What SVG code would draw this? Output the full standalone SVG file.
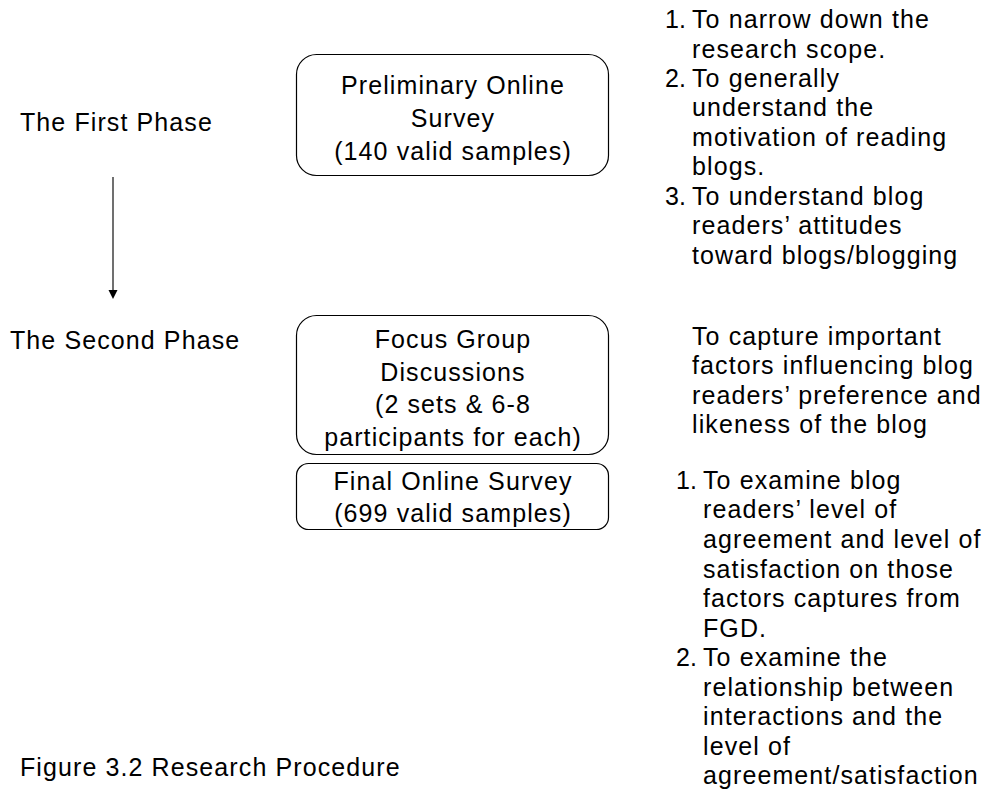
<svg xmlns="http://www.w3.org/2000/svg" width="986" height="789" viewBox="0 0 986 789">
<defs>
<style>
text{font-family:"Liberation Sans",Arial,sans-serif;font-size:25px;letter-spacing:1.1px;fill:#000}
.c{text-anchor:middle}
.n{letter-spacing:0}
.box{fill:#fff;stroke:#000;stroke-width:1.2}
.conn{stroke:#404040;stroke-width:1.5;fill:none}
</style>
</defs>
<rect width="986" height="789" fill="#fff"/>
<g id="phase1"><text x="20" y="131">The First Phase</text></g>
<g id="phase2"><text x="10" y="349">The Second Phase</text></g>
<g id="caption"><text x="20" y="776">Figure 3.2 Research Procedure</text></g>
<g id="connectors"><line class="conn" x1="113" y1="177" x2="113" y2="290"/><path d="M108.5,290 L117.5,290 L113,299 Z" fill="#000"/></g>
<g id="prelim">
<rect class="box" x="296.5" y="54.5" width="312" height="121" rx="20"/>
<text class="c" x="453" y="94">Preliminary Online</text>
<text class="c" x="453" y="127">Survey</text>
<text class="c" x="453" y="160">(140 valid samples)</text>
</g>
<g id="focus">
<rect class="box" x="296.5" y="315.5" width="312" height="139" rx="20"/>
<text class="c" x="453" y="348">Focus Group</text>
<text class="c" x="453" y="381">Discussions</text>
<text class="c" x="453" y="413">(2 sets &amp; 6-8</text>
<text class="c" x="453" y="446">participants for each)</text>
</g>
<g id="final">
<rect class="box" x="296.5" y="463.5" width="312" height="66" rx="12"/>
<text class="c" x="453" y="490">Final Online Survey</text>
<text class="c" x="453" y="522">(699 valid samples)</text>
</g>
<g id="goals1">
<text class="n" x="665" y="28">1.</text><text x="692" y="28">To narrow down the</text>
<text x="692" y="58">research scope.</text>
<text class="n" x="665" y="87">2.</text><text x="692" y="87">To generally</text>
<text x="692" y="116">understand the</text>
<text x="692" y="146">motivation of reading</text>
<text x="692" y="175">blogs.</text>
<text class="n" x="665" y="205">3.</text><text x="692" y="205">To understand blog</text>
<text x="692" y="234">readers’ attitudes</text>
<text x="692" y="264">toward blogs/blogging</text>
</g>
<g id="goals2">
<text x="692" y="345">To capture important</text>
<text x="692" y="374">factors influencing blog</text>
<text x="692" y="404">readers’ preference and</text>
<text x="692" y="433">likeness of the blog</text>
</g>
<g id="goals3">
<text class="n" x="676" y="489">1.</text><text x="703" y="489">To examine blog</text>
<text x="703" y="518">readers’ level of</text>
<text x="703" y="548">agreement and level of</text>
<text x="703" y="578">satisfaction on those</text>
<text x="703" y="607">factors captures from</text>
<text x="703" y="637">FGD.</text>
<text class="n" x="676" y="666">2.</text><text x="703" y="666">To examine the</text>
<text x="703" y="696">relationship between</text>
<text x="703" y="725">interactions and the</text>
<text x="703" y="755">level of</text>
<text x="703" y="784">agreement/satisfaction</text>
</g>
</svg>
